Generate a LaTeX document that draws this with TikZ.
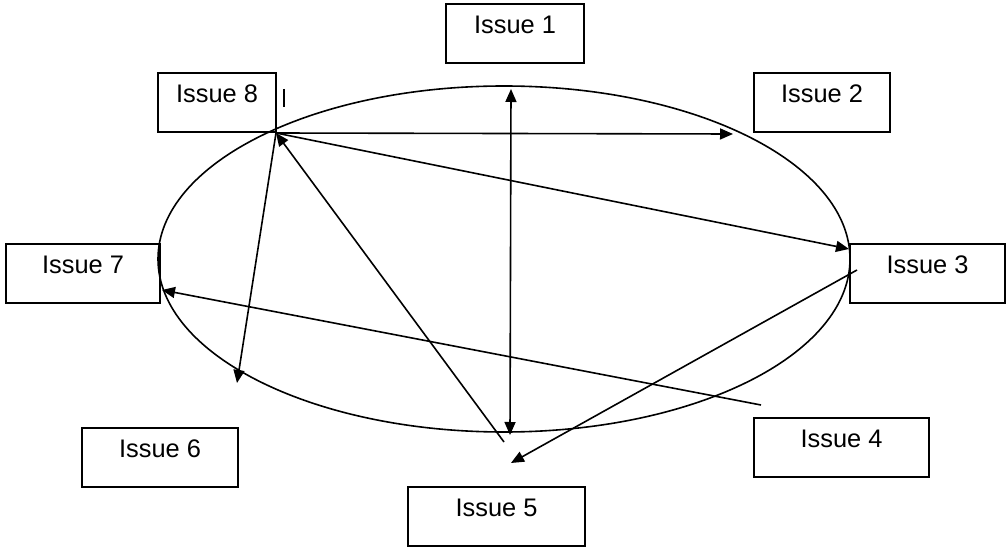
\documentclass[tikz,border=0pt]{standalone}
\usepackage{fontspec}
\setmainfont{Liberation Sans}
\usetikzlibrary{arrows.meta}
\begin{document}
\begin{tikzpicture}[x=1pt,y=-1pt,
  issuebox/.style={draw=black,line width=1.6pt,rectangle,anchor=north,inner xsep=0pt,inner ysep=0pt,
    text height=30pt,text depth=29pt,font=\fontsize{25.4}{30}\selectfont},
  conn/.style={line width=1.6pt,draw=black},
  tip/.style={-{Triangle[length=13pt,width=11pt]}},
  dtip/.style={{Triangle[length=13pt,width=11pt]}-{Triangle[length=13pt,width=11pt]}}]
\useasboundingbox (0,0) rectangle (1007,548);
% ellipse
\draw[line width=1.6pt] (504,259) ellipse [x radius=346, y radius=173];
% boxes
\node[issuebox,minimum width=138pt] (i1) at (515,3) {Issue 1};
\node[issuebox,minimum width=118pt] (i8) at (217,72) {Issue 8};
\node[issuebox,minimum width=136pt] (i2) at (822,72) {Issue 2};
\node[issuebox,minimum width=155pt] (i3) at (927.5,243) {Issue 3};
\node[issuebox,minimum width=154pt] (i7) at (83,243) {Issue 7};
\node[issuebox,minimum width=156pt] (i6) at (160,427) {Issue 6};
\node[issuebox,minimum width=175pt] (i4) at (841.5,417) {Issue 4};
\node[issuebox,minimum width=177pt] (i5) at (496.5,486) {Issue 5};
% small mark
\draw[line width=2pt] (284,89) -- (284,107);
% coordinates
\coordinate (hub) at (276,133);
\coordinate (e2) at (733,134);
\coordinate (e3) at (849,249);
\coordinate (e6) at (237,383);
\coordinate (s5) at (504,442);
\coordinate (t1) at (511,89);
\coordinate (b1) at (510,435);
\coordinate (s4) at (761,405);
\coordinate (e7) at (162,290);
\coordinate (s3) at (857,270);
\coordinate (e5) at (511,463);
% connectors
\draw[conn,tip] (hub) -- (e2);
\draw[conn,tip] (hub) -- (e3);
\draw[conn,tip] (hub) -- (e6);
\draw[conn,tip] (s5) -- (hub);
\draw[conn,dtip] (t1) -- (b1);
\draw[conn,tip] (s4) -- (e7);
\draw[conn,tip] (s3) -- (e5);
\end{tikzpicture}
\end{document}
